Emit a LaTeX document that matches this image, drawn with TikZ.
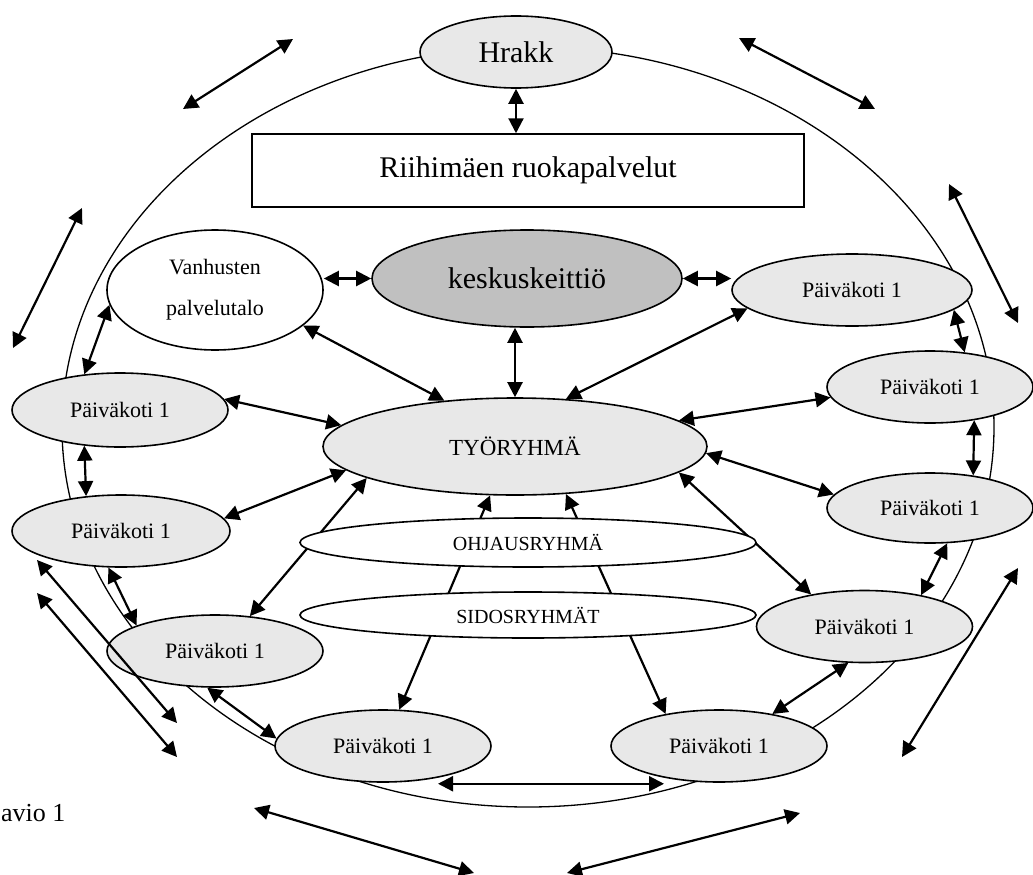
\documentclass[tikz,border=0pt]{standalone}
\usepackage{fontspec}
\setmainfont{Liberation Serif}
\usetikzlibrary{arrows.meta,shapes.geometric,backgrounds}
\definecolor{pkgray}{HTML}{E8E8E8}
\definecolor{kkgray}{HTML}{C0C0C0}

\begin{document}
\begin{tikzpicture}[x=1pt, y=-1pt,
  oval/.style={ellipse, draw=black, line width=1.6pt, inner sep=0pt},
  pk/.style={oval, fill=pkgray, minimum width=216pt, minimum height=72pt,
    font=\fontsize{22}{26}\selectfont},
  grp/.style={oval, fill=white, minimum width=456pt, minimum height=48pt,
    font=\fontsize{20}{24}\selectfont},
  big/.style={font=\fontsize{30}{36}\selectfont},
  dbl/.style={>={Triangle[length=15pt,width=15pt]}, <->, line width=2.2pt},
  rim/.style={line width=1.3pt}]

\useasboundingbox (0,0) rectangle (1033,875);

% ===== top: Hrakk and the food services =====
\node[oval, big, fill=pkgray, minimum width=192pt, minimum height=72pt] (hrakk) at (516,52) {Hrakk};
\node[draw, line width=1.5pt, big, minimum width=552pt, minimum height=73pt] (ruoka) at (528,170.5) {Riihimäen ruokapalvelut};

% ===== centre =====
\node[oval, big, fill=kkgray, minimum width=310pt, minimum height=97pt] (keskus) at (527,278.5) {keskuskeittiö};
\node[oval, fill=white, minimum width=216pt, minimum height=120pt, align=center,
  font=\fontsize{22}{41}\selectfont] (vanhus) at (215,290) {Vanhusten\\palvelutalo};
\node[oval, fill=pkgray, minimum width=384pt, minimum height=97pt,
  font=\fontsize{23}{27}\selectfont] (tyo) at (515,446.5) {TYÖRYHMÄ};

% ===== kindergartens round the ring =====
\node[pk, minimum width=240pt] (pkR0) at (852,290) {Päiväkoti 1};
\node[pk, minimum width=206pt] (pkR1) at (930,387) {Päiväkoti 1};
\node[pk, minimum width=206pt, minimum height=70pt] (pkR2) at (930,508) {Päiväkoti 1};
\node[pk] (pkR3) at (864.5,626.5) {Päiväkoti 1};
\node[pk] (pkB2) at (719,746) {Päiväkoti 1};
\node[pk] (pkB1) at (383,746) {Päiväkoti 1};
\node[pk] (pkL3) at (215,651) {Päiväkoti 1};
\node[pk, minimum width=218pt] (pkL2) at (121,531) {Päiväkoti 1};
\node[pk, minimum height=74pt] (pkL1) at (120,410) {Päiväkoti 1};

% ===== steering and stakeholder groups =====
\node[grp, minimum height=49pt] (ohjaus) at (528,542.5) {OHJAUSRYHMÄ};
\node[grp, minimum height=46pt] (sidos) at (528,615) {SIDOSRYHMÄT};

\node[anchor=base west, inner sep=0pt, font=\fontsize{26}{30}\selectfont] (kaavio) at (1,821) {avio 1};

\begin{scope}[on background layer]
  \draw[rim] (528,427) ellipse [x radius=466, y radius=380];

  \draw[dbl] (hrakk.south) -- (hrakk.south |- ruoka.north);
  \draw[dbl] (keskus.west -| vanhus.east) -- (keskus.west);
  \draw[dbl] (keskus.east) -- (keskus.east -| pkR0.west);
  \draw[dbl] (tyo.north |- keskus.south) -- (tyo.north);
  \draw[dbl] (vanhus.-22) -- (tyo.147);
  \draw[dbl] (pkR0.-170) -- (tyo.43);
  \draw[dbl] (pkL1.6) -- (tyo.173);
  \draw[dbl] (pkL2.7) -- (tyo.-172);
  \draw[dbl] (pkL3.45) -- (tyo.-168);
  \draw[dbl] (pkB1.66) -- (tyo.-117);
  \draw[dbl] (pkB2.149) -- (tyo.-43);
  \draw[dbl] (tyo.9) -- (pkR1.-174);
  \draw[dbl] (tyo.-2) -- (pkR2.172);
  \draw[dbl] (tyo.-9) -- (pkR3.149);

  % neighbours along the ring
  \draw[dbl] (vanhus.-172) -- (pkL1.135);
  \draw[dbl] (pkL1.-135) -- (pkL2.135);
  \draw[dbl] (pkL2.-109) -- (pkL3.162);
  \draw[dbl] (pkL3.-102) -- (pkB1.176);
  \draw[dbl] ([yshift=-6pt]pkB1.-30) -- ([yshift=-6pt]pkB2.-150);
  \draw[dbl] (pkB2.31) -- (pkR3.-114);
  \draw[dbl] (pkR3.29) -- (pkR2.-64);
  \draw[dbl] (pkR2.37) -- (pkR1.-37);
  \draw[dbl] (pkR1.45) -- (pkR0.-11);
\end{scope}

% ===== free arrows outside the ring =====
\coordinate (o1a) at (183,109);  \coordinate (o1b) at (293,39);
\coordinate (o2a) at (739,38);   \coordinate (o2b) at (875,109);
\coordinate (o3a) at (13,348);   \coordinate (o3b) at (82,208);
\coordinate (o4a) at (949,184);  \coordinate (o4b) at (1018,323);
\coordinate (o5a) at (37,560);   \coordinate (o5b) at (177,723);
\coordinate (o6a) at (37,593);   \coordinate (o6b) at (177,757);
\coordinate (o7a) at (902,757);  \coordinate (o7b) at (1018,568);
\coordinate (o8a) at (254,808);  \coordinate (o8b) at (474,873);
\coordinate (o9a) at (567,873);  \coordinate (o9b) at (800,813);
\foreach \s/\e in {o1a/o1b,o2a/o2b,o3a/o3b,o4a/o4b,o5a/o5b,o6a/o6b,o7a/o7b,o8a/o8b,o9a/o9b}
  \draw[dbl] (\s) -- (\e);

\end{tikzpicture}
\end{document}
